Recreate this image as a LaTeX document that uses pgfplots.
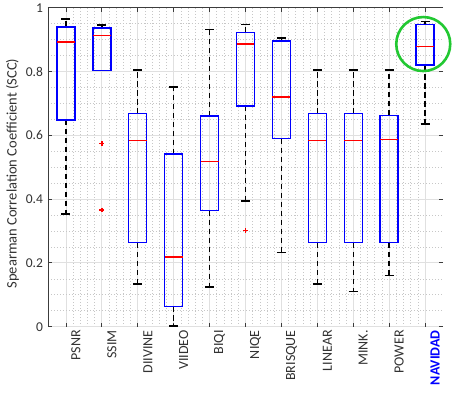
\documentclass[border=0pt]{standalone}
\usepackage{pgfplots}
\pgfplotsset{compat=1.18}
\usepgfplotslibrary{statistics}
\usepackage{fontspec}
\setmainfont{Carlito}
\definecolor{spine}{RGB}{60,60,60}
\definecolor{txt}{RGB}{50,50,50}
\definecolor{circgreen}{RGB}{34,200,50}
\begin{document}
\begin{tikzpicture}
\begin{axis}[
  name=ax,
  scale only axis, width=395pt, height=319pt,
  xmin=0.5, xmax=11.5, ymin=0, ymax=1,
  clip=false,
  axis line style={draw=none},
  xtick={1,2,3,4,5,6,7,8,9,10,11},
  xticklabels={PSNR,SSIM,DIIVINE,VIIDEO,BIQI,NIQE,BRISQUE,LINEAR,MINK.,POWER,{\textbf{\color{blue}NAVIDAD}}},
  ytick={0,0.2,0.4,0.6,0.8,1},
  yticklabels={0,0.2,0.4,0.6,0.8,1},
  tick align=inside,
  major tick length=4pt,
  minor tick length=0pt,
  tick style={spine, line width=0.8pt},
  xtick pos=both, ytick pos=both,
  minor x tick num=4,
  minor y tick num=3,
  grid=both,
  major grid style={solid, color=black!12, line width=0.8pt},
  minor grid style={color=black!22, line width=0.6pt, dash pattern=on 0.6pt off 2.4pt},
  xticklabel style={rotate=90, anchor=east, yshift=-10pt, font=\fontsize{14}{14}\selectfont, text=txt},
  yticklabel style={xshift=-1.5pt, font=\fontsize{13.5}{13.5}\selectfont, text=txt},
  ylabel={Spearman Correlation Coefficient (SCC)},
  ylabel style={at={(axis description cs:-0.09,0.48)}, anchor=center, rotate=0, font=\fontsize{14.5}{14.5}\selectfont, text=txt},
  boxplot/draw direction=y,
  boxplot/box extend=0.5,
  boxplot/every box/.style={draw=blue, line width=1.4pt},
  boxplot/every median/.style={draw=red, line width=1.7pt},
  boxplot/draw/lower whisker/.code={%
    \draw[black, line width=1.3pt, dash pattern=on 5.5pt off 3.5pt]
      (boxplot box cs:\pgfplotsboxplotvalue{lower quartile},0.5) -- (boxplot box cs:\pgfplotsboxplotvalue{lower whisker},0.5);
    \draw[black, line width=1.5pt]
      (boxplot box cs:\pgfplotsboxplotvalue{lower whisker},0.25) -- (boxplot box cs:\pgfplotsboxplotvalue{lower whisker},0.75);
  },
  boxplot/draw/upper whisker/.code={%
    \draw[black, line width=1.3pt, dash pattern=on 5.5pt off 3.5pt]
      (boxplot box cs:\pgfplotsboxplotvalue{upper quartile},0.5) -- (boxplot box cs:\pgfplotsboxplotvalue{upper whisker},0.5);
    \draw[black, line width=1.5pt]
      (boxplot box cs:\pgfplotsboxplotvalue{upper whisker},0.25) -- (boxplot box cs:\pgfplotsboxplotvalue{upper whisker},0.75);
  },
]
% PSNR
\addplot[boxplot prepared={draw position=1, lower whisker=0.353, lower quartile=0.648, median=0.893, upper quartile=0.940, upper whisker=0.965}] coordinates {};
% SSIM
\addplot[red, mark=+, mark size=2.4pt, mark options={draw=red, solid, line width=1.3pt},
  boxplot prepared={draw position=2, lower whisker=0.803, lower quartile=0.803, median=0.913, upper quartile=0.936, upper whisker=0.945}]
  table[row sep=\\, y index=0] {0.574\\0.366\\};
% DIIVINE
\addplot[boxplot prepared={draw position=3, lower whisker=0.133, lower quartile=0.263, median=0.584, upper quartile=0.668, upper whisker=0.804}] coordinates {};
% VIIDEO
\addplot[boxplot prepared={draw position=4, lower whisker=0.002, lower quartile=0.064, median=0.219, upper quartile=0.541, upper whisker=0.752}] coordinates {};
% BIQI
\addplot[boxplot prepared={draw position=5, lower whisker=0.124, lower quartile=0.364, median=0.518, upper quartile=0.660, upper whisker=0.931}] coordinates {};
% NIQE
\addplot[red, mark=+, mark size=2.4pt, mark options={draw=red, solid, line width=1.3pt},
  boxplot prepared={draw position=6, lower whisker=0.394, lower quartile=0.692, median=0.887, upper quartile=0.923, upper whisker=0.947}]
  table[row sep=\\, y index=0] {0.301\\};
% BRISQUE
\addplot[boxplot prepared={draw position=7, lower whisker=0.233, lower quartile=0.589, median=0.721, upper quartile=0.895, upper whisker=0.905}] coordinates {};
% LINEAR
\addplot[boxplot prepared={draw position=8, lower whisker=0.133, lower quartile=0.263, median=0.584, upper quartile=0.668, upper whisker=0.804}] coordinates {};
% MINK.
\addplot[boxplot prepared={draw position=9, lower whisker=0.110, lower quartile=0.263, median=0.584, upper quartile=0.668, upper whisker=0.804}] coordinates {};
% POWER
\addplot[boxplot prepared={draw position=10, lower whisker=0.160, lower quartile=0.263, median=0.587, upper quartile=0.662, upper whisker=0.804}] coordinates {};
% NAVIDAD
\addplot[boxplot prepared={draw position=11, lower whisker=0.635, lower quartile=0.820, median=0.878, upper quartile=0.948, upper whisker=0.956}] coordinates {};
% spines
\draw[spine, line width=0.8pt] (rel axis cs:0,0) -- (rel axis cs:0,1) -- (rel axis cs:1,1);
% highlight circle
\draw[circgreen, line width=2.6pt] (axis cs:10.95,0.886) circle[radius=27pt];
\end{axis}
\path (ax.south west) ++(-48pt,-74pt) rectangle ++(458pt,399pt);
\end{tikzpicture}
\end{document}
